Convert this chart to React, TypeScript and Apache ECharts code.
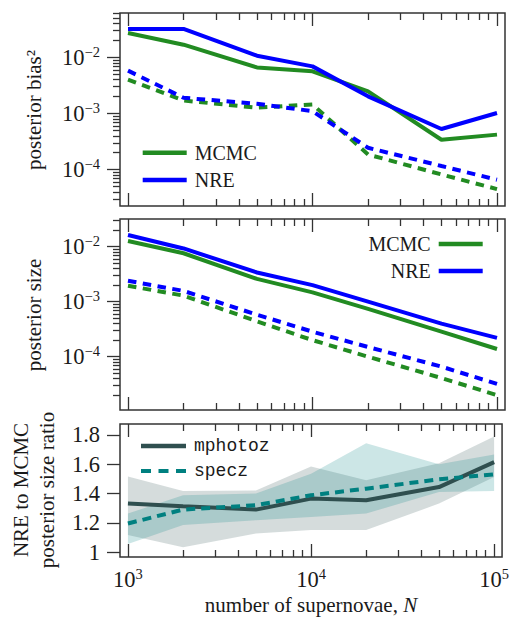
import React, { useEffect, useRef } from "react";
import * as echarts from "echarts";

// ---------- data ----------
const N = [1000, 2000, 5000, 10000, 20000, 50000, 100000];

// panel 1: posterior bias^2
const biasMcmcSolid = [0.0272, 0.0168, 0.0066, 0.00564, 0.00248, 0.00034, 0.00042];
const biasNreSolid = [0.032, 0.032, 0.0107, 0.0069, 0.00202, 0.00053, 0.00102];
const biasMcmcDashed = [0.004, 0.0017, 0.00127, 0.00145, 0.000186, 0.000082, 0.000045];
const biasNreDashed = [0.0058, 0.0019, 0.00149, 0.0011, 0.000245, 0.000116, 0.000066];

// panel 2: posterior size
const sizeMcmcSolid = [0.0127, 0.0076, 0.0026, 0.00148, 0.00074, 0.000285, 0.000138];
const sizeNreSolid = [0.0163, 0.0093, 0.0034, 0.002, 0.001, 0.0004, 0.00022];
const sizeMcmcDashed = [0.00195, 0.00129, 0.00044, 0.0002, 0.0001, 0.000041, 0.00002];
const sizeNreDashed = [0.0024, 0.00157, 0.00058, 0.000285, 0.00015, 0.000066, 0.000032];

// panel 3: NRE / MCMC posterior size ratio
const ratioMphotoz = [1.331, 1.313, 1.29, 1.365, 1.354, 1.444, 1.614];
const ratioMphotozLow = [1.116, 1.032, 1.127, 1.15, 1.15, 1.331, 1.512];
const ratioMphotozHigh = [1.517, 1.417, 1.42, 1.585, 1.49, 1.607, 1.789];
const ratioSpecz = [1.195, 1.29, 1.32, 1.388, 1.433, 1.497, 1.531];
const ratioSpeczLow = [1.054, 1.184, 1.218, 1.24, 1.263, 1.41, 1.417];
const ratioSpeczHigh = [1.263, 1.388, 1.4, 1.535, 1.744, 1.6, 1.667];

// ticks
const xMajor = [1e3, 1e4, 1e5];
const xMinor = [2e3, 3e3, 4e3, 5e3, 6e3, 7e3, 8e3, 9e3, 2e4, 3e4, 4e4, 5e4, 6e4, 7e4, 8e4, 9e4];
const yLogMajor = [1e-4, 1e-3, 1e-2];
const yLogMinor = [
  2e-5, 3e-5, 4e-5, 5e-5, 6e-5, 7e-5, 8e-5, 9e-5,
  2e-4, 3e-4, 4e-4, 5e-4, 6e-4, 7e-4, 8e-4, 9e-4,
  2e-3, 3e-3, 4e-3, 5e-3, 6e-3, 7e-3, 8e-3, 9e-3,
  2e-2, 3e-2, 4e-2, 5e-2, 6e-2,
];
const yRatioTicks = [1, 1.2, 1.4, 1.6, 1.8];

const SERIF = "Liberation Serif";
const MONO = "Liberation Mono";
const GREEN = "#228b22";
const BLUE = "#0000ff";
const SLATE = "#2f4f4f";
const TEAL = "#008080";
const INK = "#1a1a1a";
const FRAME = "#333333";

const X_MIN = 905;
const X_MAX = 110500;

const pairs = (ys: number[]) => N.map((n, i) => [n, ys[i]]);

const supRich = {
  b: { fontSize: 22.5, lineHeight: 26, fontFamily: SERIF, color: INK },
  s: { fontSize: 14.5, lineHeight: 14.5, verticalAlign: "top", fontFamily: SERIF, color: INK },
};
const powFmt = (v: number) => {
  const e = Math.round(Math.log10(v));
  return `{b|10}{s|${e < 0 ? "\u2212" : ""}${Math.abs(e)}}`;
};

function xAxesFor(g: number, labels: boolean) {
  const base = {
    type: "log",
    logBase: 10,
    gridIndex: g,
    min: X_MIN,
    max: X_MAX,
    axisLine: { show: false, onZero: false },
    splitLine: { show: false },
    axisLabel: { show: false },
  };
  const tick = (len: number, vals: number[]) => ({
    show: true,
    inside: true,
    length: len,
    customValues: vals,
    lineStyle: { color: FRAME, width: 1.3 },
  });
  return [
    {
      ...base,
      position: "bottom",
      axisTick: tick(13, xMajor),
      axisLabel: labels
        ? {
            show: true,
            customValues: xMajor,
            formatter: powFmt,
            rich: supRich,
            margin: 9,
            fontSize: 22.5,
            fontFamily: SERIF,
            color: INK,
          }
        : { show: false },
    },
    { ...base, position: "bottom", axisTick: tick(7, xMinor) },
    { ...base, position: "top", axisTick: tick(13, xMajor) },
    { ...base, position: "top", axisTick: tick(7, xMinor) },
  ];
}

function yLogAxesFor(g: number, min: number, max: number) {
  const base = {
    type: "log",
    logBase: 10,
    gridIndex: g,
    min,
    max,
    position: "left",
    axisLine: { show: false, onZero: false },
    splitLine: { show: false },
  };
  return [
    {
      ...base,
      axisTick: { show: true, inside: false, length: 13, customValues: yLogMajor, lineStyle: { color: FRAME, width: 1.3 } },
      axisLabel: {
        show: true,
        customValues: yLogMajor,
        formatter: powFmt,
        rich: supRich,
        margin: 20,
        fontSize: 22.5,
        fontFamily: SERIF,
        color: INK,
      },
    },
    {
      ...base,
      axisTick: { show: true, inside: false, length: 7, customValues: yLogMinor, lineStyle: { color: FRAME, width: 1.3 } },
      axisLabel: { show: false },
    },
  ];
}

const lineSeries = (
  name: string,
  data: number[],
  color: string,
  dashed: boolean,
  xi: number,
  yi: number,
  dash = [8.5, 6.5]
) => ({
  type: "line",
  name,
  data: pairs(data),
  xAxisIndex: xi,
  yAxisIndex: yi,
  symbol: "none",
  silent: true,
  lineStyle: { color, width: 4, type: dashed ? dash : "solid", cap: "butt" },
  itemStyle: { color },
});

const bandSeries = (name: string, lo: number[], hi: number[], fill: string) => ({
  type: "custom",
  name,
  xAxisIndex: 8,
  yAxisIndex: 4,
  silent: true,
  data: [[N[0], lo[0]]],
  renderItem: (_params: any, api: any) => {
    const up = N.map((n, i) => api.coord([n, hi[i]]));
    const down = N.map((n, i) => api.coord([n, lo[i]])).reverse();
    return { type: "polygon", shape: { points: [...up, ...down] }, style: { fill } };
  },
});

const DASH_ICON = "path://M0,0h10v4h-10zM17.5,0h10v4h-10zM35,0h10v4h-10z";

export default function App() {
  const ref = useRef<HTMLDivElement>(null);
  useEffect(() => {
    if (!ref.current) return;
    const chart = echarts.init(ref.current, undefined, { renderer: "svg" });
    const gridBase = { show: true, borderColor: FRAME, borderWidth: 1.5, backgroundColor: "transparent", containLabel: false };
    const serifLegendText = { fontFamily: SERIF, fontSize: 20, lineHeight: 20, color: INK };
    const option: any = {
      animation: false,
      backgroundColor: "#ffffff",
      grid: [
        { ...gridBase, left: 120, top: 13, width: 385, height: 193 },
        { ...gridBase, left: 120, top: 219, width: 385, height: 191 },
        { ...gridBase, left: 120, top: 424, width: 385, height: 133 },
      ],
      xAxis: [...xAxesFor(0, false), ...xAxesFor(1, false), ...xAxesFor(2, true)],
      yAxis: [
        ...yLogAxesFor(0, 2.25e-5, 0.0616),
        ...yLogAxesFor(1, 1.074e-5, 0.0319),
        {
          type: "value",
          gridIndex: 2,
          min: 0.966,
          max: 1.875,
          position: "left",
          axisLine: { show: false, onZero: false },
          splitLine: { show: false },
          axisTick: { show: true, inside: false, length: 13, customValues: yRatioTicks, lineStyle: { color: FRAME, width: 1.3 } },
          axisLabel: {
            show: true,
            customValues: yRatioTicks,
            margin: 20,
            fontSize: 22.5,
            fontFamily: SERIF,
            color: INK,
            formatter: (v: number) => String(Math.round(v * 10) / 10),
          },
        },
      ],
      legend: [
        {
          data: [
            { name: "MCMC", icon: "rect" },
            { name: "NRE", icon: "rect" },
          ],
          orient: "vertical",
          left: 142.7,
          top: 142.7,
          padding: 0,
          itemWidth: 44,
          itemHeight: 4.5,
          itemGap: 7.3,
          selectedMode: false,
          textStyle: { ...serifLegendText, padding: [0, 0, 0, 3] },
        },
        {
          data: [
            { name: "MCMC", icon: "rect" },
            { name: "NRE", icon: "rect" },
          ],
          orient: "vertical",
          align: "right",
          right: 29.3,
          top: 234,
          padding: 0,
          itemWidth: 44,
          itemHeight: 4.5,
          itemGap: 7,
          selectedMode: false,
          textStyle: { ...serifLegendText, padding: [0, 3, 0, 0] },
        },
        {
          data: [
            { name: "mphotoz", icon: "rect" },
            { name: "specz", icon: DASH_ICON },
          ],
          orient: "vertical",
          left: 141,
          top: 436,
          padding: 0,
          itemWidth: 45,
          itemHeight: 4.5,
          itemGap: 5,
          selectedMode: false,
          textStyle: { fontFamily: MONO, fontSize: 18, lineHeight: 20, color: INK, padding: [0, 0, 0, 3] },
        },
      ],
      series: [
        // panel 1
        lineSeries("MCMC", biasMcmcSolid, GREEN, false, 0, 0),
        lineSeries("NRE", biasNreSolid, BLUE, false, 0, 0),
        lineSeries("MCMC dashed", biasMcmcDashed, GREEN, true, 0, 0),
        lineSeries("NRE dashed", biasNreDashed, BLUE, true, 0, 0),
        // panel 2
        lineSeries("MCMC", sizeMcmcSolid, GREEN, false, 4, 2),
        lineSeries("NRE", sizeNreSolid, BLUE, false, 4, 2),
        lineSeries("MCMC dashed", sizeMcmcDashed, GREEN, true, 4, 2),
        lineSeries("NRE dashed", sizeNreDashed, BLUE, true, 4, 2),
        // panel 3
        bandSeries("mphotoz band", ratioMphotozLow, ratioMphotozHigh, "rgba(47,79,79,0.2)"),
        bandSeries("specz band", ratioSpeczLow, ratioSpeczHigh, "rgba(0,128,128,0.2)"),
        lineSeries("mphotoz", ratioMphotoz, SLATE, false, 8, 4),
        lineSeries("specz", ratioSpecz, TEAL, true, 8, 4, [9, 6]),
      ],
      graphic: [
        {
          type: "text",
          x: 34,
          y: 110,
          rotation: Math.PI / 2,
          style: { text: "posterior bias\u00b2", fontFamily: SERIF, fontSize: 21, fill: INK, align: "center", verticalAlign: "middle" },
        },
        {
          type: "text",
          x: 34,
          y: 315,
          rotation: Math.PI / 2,
          style: { text: "posterior size", fontFamily: SERIF, fontSize: 21, fill: INK, align: "center", verticalAlign: "middle" },
        },
        {
          type: "text",
          x: 21,
          y: 490,
          rotation: Math.PI / 2,
          style: { text: "NRE to MCMC", fontFamily: SERIF, fontSize: 21, fill: INK, align: "center", verticalAlign: "middle" },
        },
        {
          type: "text",
          x: 47,
          y: 490,
          rotation: Math.PI / 2,
          style: { text: "posterior size ratio", fontFamily: SERIF, fontSize: 21, fill: INK, align: "center", verticalAlign: "middle" },
        },
        {
          type: "text",
          x: 311,
          y: 605,
          style: {
            text: "number of supernovae, {i|N}",
            fontFamily: SERIF,
            fontSize: 21,
            fill: INK,
            align: "center",
            verticalAlign: "middle",
            rich: { i: { fontFamily: SERIF, fontSize: 21, fontStyle: "italic", fill: INK } },
          },
        },
      ],
    };
    chart.setOption(option);
    return () => chart.dispose();
  }, []);
  return (
    <div
      ref={ref}
      style={{ position: "absolute", left: 0, top: 0, width: 512, height: 618, background: "#fff" }}
    />
  );
}
